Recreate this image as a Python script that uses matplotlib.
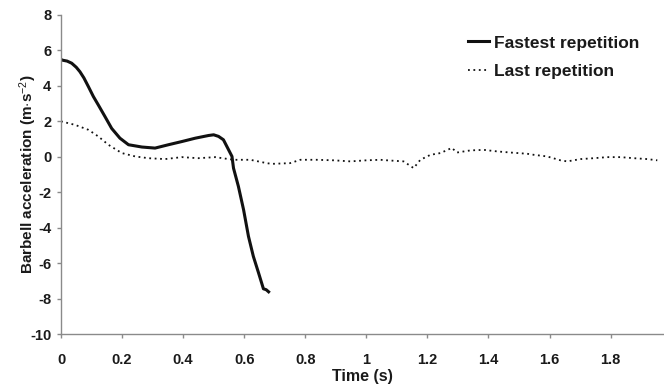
import matplotlib
matplotlib.use("Agg")
import matplotlib.pyplot as plt

plt.rcParams['font.family'] = ['Liberation Sans', 'DejaVu Sans']
plt.rcParams['mathtext.fontset'] = 'custom'
plt.rcParams['mathtext.rm'] = 'Liberation Sans'
plt.rcParams['mathtext.it'] = 'Liberation Sans'
plt.rcParams['mathtext.bf'] = 'Liberation Sans:bold'
plt.rcParams['axes.unicode_minus'] = False

# Fastest repetition (time s, acceleration m/s^2)
fast_t = [0.0, 0.002, 0.02, 0.035, 0.05, 0.062, 0.075, 0.09, 0.106, 0.122, 0.144, 0.166,
          0.193, 0.221, 0.265, 0.308, 0.352, 0.396, 0.44, 0.483, 0.5, 0.516, 0.532,
          0.549, 0.56, 0.565, 0.581, 0.598, 0.614, 0.63, 0.647, 0.663, 0.672, 0.68]
fast_a = [5.5, 5.46, 5.4, 5.28, 5.05, 4.8, 4.45, 3.95, 3.4, 2.93, 2.27, 1.6,
          1.05, 0.68, 0.55, 0.49, 0.68, 0.86, 1.05, 1.2, 1.24, 1.15, 0.96,
          0.39, 0.02, -0.64, -1.67, -2.99, -4.49, -5.62, -6.55, -7.45, -7.5, -7.62]

# Last repetition
last_t = [0.0, 0.046, 0.09, 0.122, 0.155, 0.199, 0.243, 0.286, 0.341, 0.396, 0.45, 0.505,
          0.565, 0.62, 0.674, 0.69, 0.75, 0.784, 0.838, 0.893, 0.948, 1.0, 1.046, 1.068,
          1.122, 1.155, 1.177, 1.21, 1.243, 1.28, 1.297, 1.341, 1.385, 1.43, 1.472, 1.527,
          1.549, 1.592, 1.636, 1.658, 1.702, 1.745, 1.789, 1.833, 1.876, 1.92, 1.953]
last_a = [2.0, 1.8, 1.52, 1.15, 0.68, 0.21, 0.02, -0.08, -0.13, -0.02, -0.08, -0.02,
          -0.17, -0.17, -0.36, -0.4, -0.36, -0.17, -0.17, -0.2, -0.26, -0.2, -0.17, -0.2,
          -0.26, -0.64, -0.17, 0.11, 0.21, 0.5, 0.24, 0.36, 0.39, 0.3, 0.24, 0.17,
          0.11, 0.02, -0.2, -0.26, -0.13, -0.08, -0.02, -0.02, -0.08, -0.13, -0.2]

x_ticks = [0, 0.2, 0.4, 0.6, 0.8, 1.0, 1.2, 1.4, 1.6, 1.8]
x_tick_labels = ['0', '0.2', '0.4', '0.6', '0.8', '1', '1.2', '1.4', '1.6', '1.8']
y_ticks = [-10, -8, -6, -4, -2, 0, 2, 4, 6, 8]

fig = plt.figure(figsize=(6.64, 3.89), dpi=100)
ax = fig.add_axes([61/664, 1-334/389, 1-61/664, (334-15)/389])

ax.plot(fast_t, fast_a, color='#111111', lw=2.2, solid_joinstyle='round',
        label='Fastest repetition')
ax.plot(last_t, last_a, color='#111111', lw=1.3, linestyle=(0, (1.0, 2.0)),
        label='Last repetition')

ax.set_xlim(0, 1.975)
ax.set_ylim(-10, 8)
ax.set_xticks(x_ticks)
ax.set_xticklabels(x_tick_labels)
ax.set_yticks(y_ticks)

for s in ['top', 'right']:
    ax.spines[s].set_visible(False)
for s in ['left', 'bottom']:
    ax.spines[s].set_color('#8a8a8a')
    ax.spines[s].set_linewidth(1.0)
ax.tick_params(axis='both', direction='out', length=3, width=1.0, color='#8a8a8a',
               labelsize=10.5, labelcolor='#1a1a1a')
ax.tick_params(axis='x', pad=11)
ax.tick_params(axis='y', pad=4)
for lab in ax.get_xticklabels() + ax.get_yticklabels():
    lab.set_fontweight('bold')

ax.set_xlabel('Time (s)', fontsize=11.5, fontweight='bold', color='#1a1a1a', labelpad=1)
ax.set_ylabel(r'Barbell acceleration (m$\cdot$s$^{-2}$)', fontsize=11,
              fontweight='bold', color='#1a1a1a')
ax.yaxis.set_label_coords(-0.036, 0.5)

leg = ax.legend(loc='upper right', bbox_to_anchor=(0.985, 0.985), frameon=False,
                prop={'weight': 'bold', 'size': 12.5}, handlelength=1.2,
                handletextpad=0.3, labelspacing=0.75)
for t in leg.get_texts():
    t.set_color('#1a1a1a')

fig.savefig('out.png', dpi=100)
